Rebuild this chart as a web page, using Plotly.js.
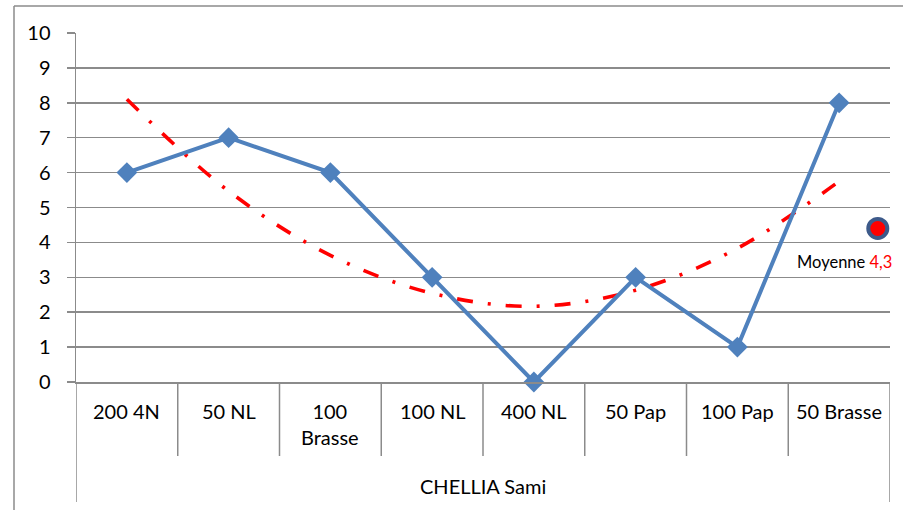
<!DOCTYPE html>
<html>
<head>
<meta charset="utf-8">
<script src="https://cdn.plot.ly/plotly-3.0.1.min.js"></script>
<style>html,body{margin:0;padding:0;background:#fff;}#chart{width:903px;height:510px;}</style>
</head>
<body>
<div id="chart"></div>
<script>
// ---- data ----
const categories = ["200 4N", "50 NL", "100<br>Brasse", "100 NL", "400 NL", "50 Pap", "100 Pap", "50 Brasse"];
const scores = [6, 7, 6, 3, 0, 3, 1, 8];
const trendValues = [8.1, 5.47, 3.63, 2.54, 2.17, 2.63, 3.83, 5.75];
const meanValue = 4.4;
const meanLabel = "4,3";
const groupLabel = "CHELLIA Sami";
const yTicks = [0, 1, 2, 3, 4, 5, 6, 7, 8, 9, 10];

// ---- layout geometry ----
const W = 903, H = 510;
const M = {l: 76, r: 13, t: 33, b: 128};
const pw = W - M.l - M.r, ph = H - M.t - M.b;
const px2paperX = p => (p - M.l) / pw;
const px2paperY = p => (H - M.b - p) / ph;
const FONT = "Lato, 'Open Sans', sans-serif";
const GRID = "#8b8b8b";
const idx = categories.map((_, i) => i);

const traces = [
  {
    x: idx, y: trendValues, type: "scatter", mode: "lines",
    line: {color: "#ff0000", width: 3.6, dash: "16px,15px,3px,15px", shape: "spline", smoothing: 1},
    hoverinfo: "skip"
  },
  {
    x: idx, y: scores, type: "scatter", mode: "lines+markers", cliponaxis: false,
    line: {color: "#4f81bd", width: 4},
    marker: {symbol: "diamond", size: 16, color: "#4f81bd"}
  },
  {
    x: [7.38], y: [meanValue], type: "scatter", mode: "markers", cliponaxis: false,
    marker: {symbol: "circle", size: 19, color: "#ff0000", line: {color: "#3d5a8a", width: 4}}
  }
];

const shapes = [];
const line = (x0, y0, x1, y1, xref, yref) => shapes.push({type: "line", xref, yref, x0, y0, x1, y1, line: {color: GRID, width: 1.5}, layer: "below"});
// outer chart border (left and top)
line(px2paperX(14), px2paperY(6), px2paperX(14), px2paperY(512), "paper", "paper");
line(px2paperX(14), px2paperY(6), px2paperX(905), px2paperY(6), "paper", "paper");
// left axis extension below plot
line(-0.5, 0, -0.5, px2paperY(502), "x", "paper");
// category separators
for (let k = 0; k < categories.length - 1; k++) line(k + 0.5, 0, k + 0.5, px2paperY(456), "x", "paper");
// right edge of group box
line(categories.length - 0.5, 0, categories.length - 0.5, px2paperY(502), "x", "paper");

const annotations = categories.map((c, i) => ({
  x: i, y: px2paperY(397), xref: "x", yref: "paper", text: c, showarrow: false,
  xanchor: "center", yanchor: "top", font: {family: FONT, size: 20, color: "#000"}, align: "center"
}));
annotations.push({
  x: 3.5, y: px2paperY(486), xref: "x", yref: "paper", text: groupLabel, showarrow: false,
  xanchor: "center", yanchor: "middle", font: {family: FONT, size: 20, color: "#000"}
});
annotations.push({
  x: px2paperX(844), y: px2paperY(262), xref: "paper", yref: "paper",
  text: "Moyenne <span style='color:#ff0000'>" + meanLabel + "</span>", showarrow: false,
  xanchor: "center", yanchor: "middle", font: {family: FONT, size: 16.5, color: "#000"}
});

const layout = {
  width: W, height: H,
  margin: M,
  paper_bgcolor: "#fff", plot_bgcolor: "#fff",
  showlegend: false,
  font: {family: FONT, size: 20, color: "#000"},
  xaxis: {
    type: "linear", range: [-0.5, categories.length - 0.5], showgrid: false, zeroline: false,
    showticklabels: false, ticks: "", showline: true, linecolor: GRID, linewidth: 1.5, fixedrange: true
  },
  yaxis: {
    range: [0, 10], tickvals: yTicks, ticktext: yTicks.map(String), showgrid: true, gridcolor: GRID, gridwidth: 1.5,
    zeroline: false, showline: true, linecolor: GRID, linewidth: 1.5,
    ticks: "outside", ticklen: 8, tickcolor: GRID, tickwidth: 1.5, ticklabelstandoff: 12,
    tickfont: {family: FONT, size: 20, color: "#000"}, fixedrange: true
  },
  shapes, annotations
};

Plotly.newPlot("chart", traces, layout, {displayModeBar: false, staticPlot: true});
</script>
</body>
</html>
